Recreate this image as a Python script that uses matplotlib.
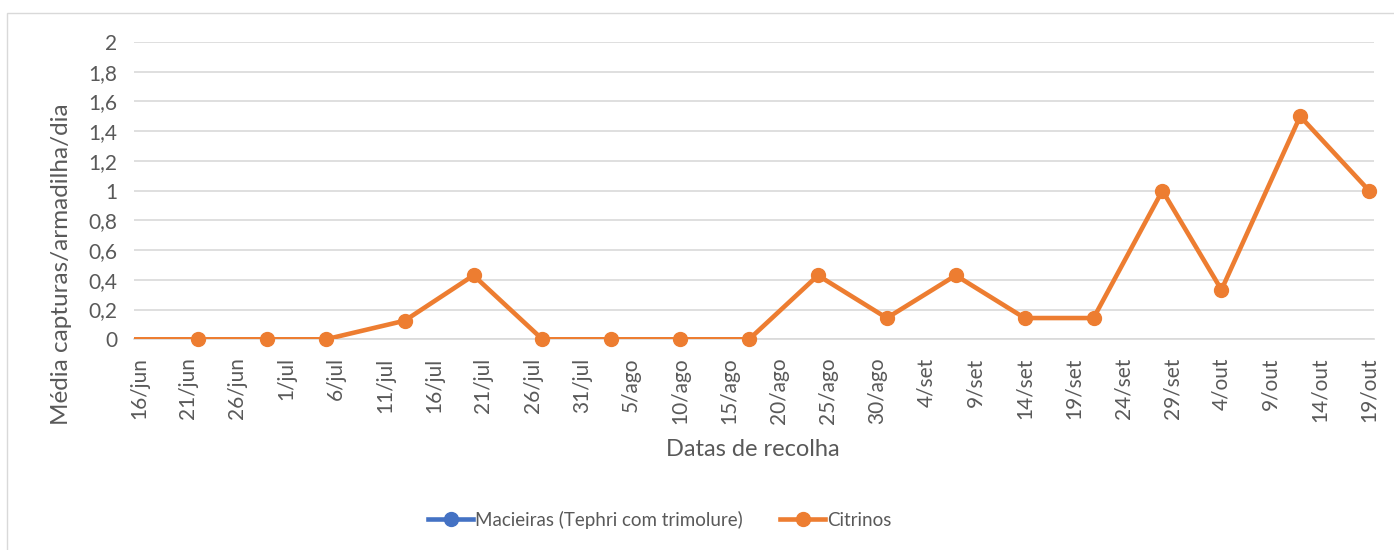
import matplotlib
matplotlib.use("Agg")
import matplotlib.pyplot as plt
import matplotlib.dates as mdates
from matplotlib.patches import Rectangle
from matplotlib.lines import Line2D
import pandas as pd
import numpy as np

plt.rcParams['font.family'] = ['Lato', 'DejaVu Sans']

# ---- data ----
dates = ["2019-06-15", "2019-06-22", "2019-06-29", "2019-07-05", "2019-07-13",
         "2019-07-20", "2019-07-27", "2019-08-03", "2019-08-10", "2019-08-17",
         "2019-08-24", "2019-08-31", "2019-09-07", "2019-09-14", "2019-09-21",
         "2019-09-28", "2019-10-04", "2019-10-12", "2019-10-19"]
citrinos = [0, 0, 0, 0, 0.125, 0.43, 0, 0, 0, 0, 0.43, 0.143, 0.43, 0.143, 0.143,
            1.0, 0.333, 1.5, 1.0]
macieiras = [np.nan] * len(dates)
series_names = ["Macieiras (Tephri com trimolure)", "Citrinos"]
x_start, x_end = "2019-06-16", "2019-10-19"
meses = {6: "jun", 7: "jul", 8: "ago", 9: "set", 10: "out"}
y_ticks = [0, 0.2, 0.4, 0.6, 0.8, 1.0, 1.2, 1.4, 1.6, 1.8, 2.0]
y_label = "Média capturas/armadilha/dia"
x_label = "Datas de recolha"

# ---- figure ----
W, H = 1394, 550
fig = plt.figure(figsize=(W / 100, H / 100), dpi=100)
fig.patches.append(Rectangle((7 / W, -0.1), 1.2, 1 - 13 / H + 0.1,
                             transform=fig.transFigure, fill=False,
                             edgecolor="#D9D9D9", linewidth=1.0))

ax = fig.add_axes([134 / W, 1 - 339.3 / H, (1374 - 134) / W, (339.3 - 42) / H])
gray = "#595959"
blue, orange = "#4472C4", "#ED7D31"

t0 = pd.Timestamp(x_start)
t1 = pd.Timestamp(x_end)
x = pd.to_datetime(dates)
inside = [(d >= t0) and (d <= t1) for d in x]   # Excel hides markers outside the axis

ax.plot(x, macieiras, color=blue, lw=3.3, marker="o", ms=10)
ax.plot(x, citrinos, color=orange, lw=3.3, solid_capstyle="butt",
        solid_joinstyle="round", zorder=3)
ax.plot(x, citrinos, color=orange, lw=0, marker="o", ms=10, markevery=inside,
        zorder=4, clip_on=False)

ax.set_xlim(mdates.date2num(t0) - 0.5, mdates.date2num(t1) + 0.5)
ax.set_ylim(0, 2)

ticks = pd.date_range(t0, t1, freq="5D")
ax.set_xticks(ticks)
ax.set_xticklabels([f"{d.day}/{meses[d.month]}" for d in ticks], rotation=90,
                   fontsize=15, color=gray)
ax.set_yticks(y_ticks)
ax.set_yticklabels([("%g" % v).replace(".", ",") for v in y_ticks],
                   fontsize=15, color=gray)
ax.tick_params(axis="both", length=0)
ax.tick_params(axis="x", pad=13)
ax.tick_params(axis="y", pad=12)

ax.grid(axis="y", color="#D9D9D9", lw=1.2)
ax.set_axisbelow(True)
for s in ["top", "right", "left"]:
    ax.spines[s].set_visible(False)
ax.spines["bottom"].set_color("#D9D9D9")
ax.spines["bottom"].set_linewidth(1.2)

fig.text(62 / W, 1 - 264 / H, y_label, rotation=90, ha="center", va="center",
         fontsize=17.5, color=gray)
fig.text(753 / W, 1 - 449 / H, x_label, ha="center", va="center",
         fontsize=17, color=gray)

handles = [Line2D([], [], color=blue, lw=3.3, marker="o", ms=10),
           Line2D([], [], color=orange, lw=3.3, marker="o", ms=10)]
fig.legend(handles, series_names, loc="center", bbox_to_anchor=(660 / W, 1 - 520 / H),
           ncol=2, frameon=False, fontsize=13.5, labelcolor=gray,
           handlelength=2.4, handletextpad=0.1, columnspacing=2.0)

fig.savefig("out.png", dpi=100)
